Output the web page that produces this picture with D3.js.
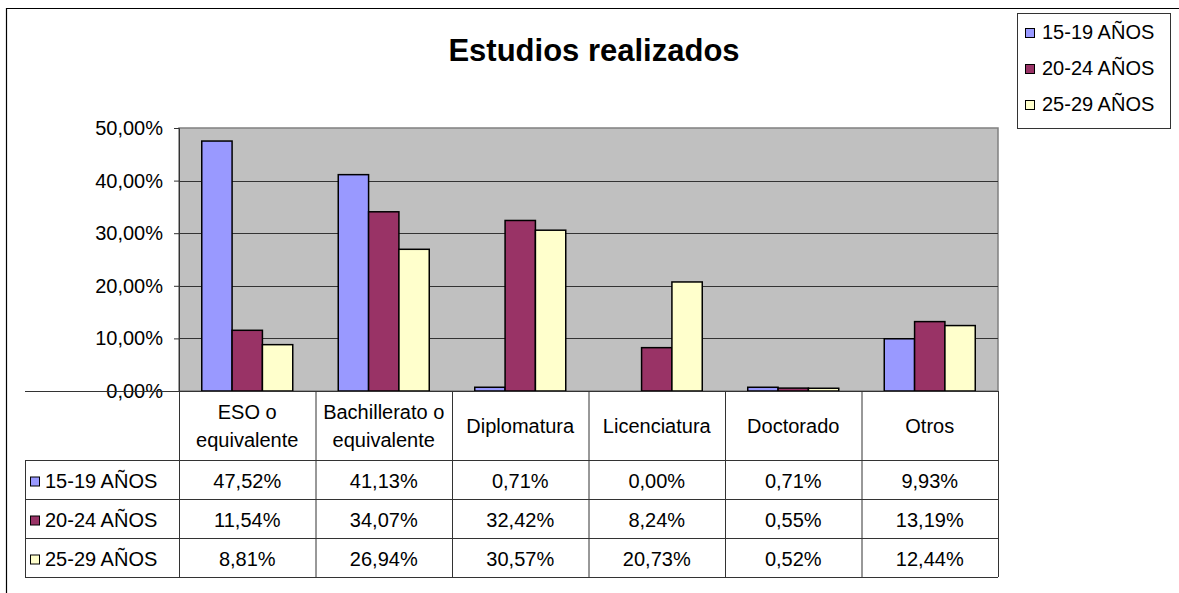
<!DOCTYPE html>
<html>
<head>
<meta charset="utf-8">
<script src="https://cdn.jsdelivr.net/npm/d3@7"></script>
<style>
  body { margin: 0; background: #fff; }
  svg { font-family: "Liberation Sans", Arial, sans-serif; }
</style>
</head>
<body>
<svg id="chart" width="1179" height="593"></svg>
<script>
// data
const categories = ["ESO o\nequivalente", "Bachillerato o\nequivalente", "Diplomatura", "Licenciatura", "Doctorado", "Otros"];
const seriesNames = ["15-19 AÑOS", "20-24 AÑOS", "25-29 AÑOS"];
const serie1519 = [47.52, 41.13, 0.71, 0.00, 0.71, 9.93];
const serie2024 = [11.54, 34.07, 32.42, 8.24, 0.55, 13.19];
const serie2529 = [8.81, 26.94, 30.57, 20.73, 0.52, 12.44];
const yTicks = [0, 10, 20, 30, 40, 50];
const colors = ["#9999FF", "#993366", "#FFFFCC"];

const allSeries = [serie1519, serie2024, serie2529];
const fmt = v => v.toFixed(2).replace(".", ",") + "%";
const FS = 20;

const svg = d3.select("#chart");

// outer chart border
svg.append("path")
    .attr("d", "M6.5,593 V8.5 H1179")
    .attr("fill", "none")
    .attr("stroke", "#000")
    .attr("stroke-width", 1.2);

// title
svg.append("text")
    .attr("x", 594)
    .attr("y", 61)
    .attr("text-anchor", "middle")
    .attr("font-size", 31)
    .attr("font-weight", "bold")
    .text("Estudios realizados");

// plot area
const plot = { left: 179, right: 998, top: 128, bottom: 391 };

const x = d3.scaleBand()
    .domain(d3.range(categories.length))
    .range([plot.left, plot.right])
    .paddingInner(0)
    .paddingOuter(0);

const groupW = x.bandwidth();
const barW = groupW / 4.5;   // gap width 150%

const y = d3.scaleLinear()
    .domain([0, 50])
    .range([plot.bottom, plot.top]);

svg.append("rect")
    .attr("x", plot.left)
    .attr("y", plot.top)
    .attr("width", plot.right - plot.left)
    .attr("height", plot.bottom - plot.top)
    .attr("fill", "#C0C0C0")
    .attr("stroke", "#808080")
    .attr("stroke-width", 1.5);

// gridlines
svg.append("g")
    .selectAll("line")
    .data(yTicks.filter(d => d > 0 && d < 50))
    .enter()
    .append("line")
    .attr("x1", plot.left)
    .attr("x2", plot.right)
    .attr("y1", d => Math.round(y(d)) + 0.5)
    .attr("y2", d => Math.round(y(d)) + 0.5)
    .attr("stroke", "#333")
    .attr("stroke-width", 1);

// y axis
const yAxis = d3.axisLeft(y)
    .tickValues(yTicks)
    .tickSize(5)
    .tickPadding(11)
    .tickFormat(d => d.toFixed(2).replace(".", ",") + "%");

const yg = svg.append("g")
    .attr("transform", `translate(${plot.left},0)`)
    .call(yAxis);
yg.select(".domain").attr("stroke", "#333");
yg.selectAll(".tick line").attr("stroke", "#333");
yg.selectAll(".tick text")
    .attr("font-size", FS)
    .attr("font-family", "Liberation Sans, Arial, sans-serif")
    .attr("fill", "#000");

// bars
allSeries.forEach((serie, si) => {
    svg.append("g")
        .selectAll("rect")
        .data(serie)
        .enter()
        .append("rect")
        .attr("x", (d, i) => x(i) + barW * 0.75 + si * barW)
        .attr("y", d => y(d))
        .attr("width", barW)
        .attr("height", d => y(0) - y(d))
        .attr("fill", colors[si])
        .attr("stroke", d => d > 0 ? "#000" : "none")
        .attr("stroke-width", 1.5);
});

// x axis line
svg.append("line")
    .attr("x1", 25).attr("x2", plot.right)
    .attr("y1", plot.bottom + 0.5).attr("y2", plot.bottom + 0.5)
    .attr("stroke", "#333");

// data table
const headerBottom = 460;
const rowH = 39;
const tableLeft = 25;
const table = svg.append("g").attr("stroke", "#333").attr("stroke-width", 1);

// vertical lines of table
d3.range(categories.length + 1).forEach(i => {
    const xx = i < categories.length ? x(i) : plot.right;
    table.append("line")
        .attr("x1", xx + 0.5).attr("x2", xx + 0.5)
        .attr("y1", plot.bottom).attr("y2", headerBottom + rowH * 3);
});
table.append("line")
    .attr("x1", tableLeft + 0.5).attr("x2", tableLeft + 0.5)
    .attr("y1", headerBottom).attr("y2", headerBottom + rowH * 3);
// horizontal lines
d3.range(4).forEach(r => {
    table.append("line")
        .attr("x1", tableLeft).attr("x2", plot.right)
        .attr("y1", headerBottom + r * rowH + 0.5)
        .attr("y2", headerBottom + r * rowH + 0.5);
});

// category labels
categories.forEach((c, i) => {
    const lines = c.split("\n");
    const cx = x(i) + groupW / 2;
    const cy = (plot.bottom + headerBottom) / 2;
    lines.forEach((ln, li) => {
        svg.append("text")
            .attr("x", cx)
            .attr("y", cy + (li - (lines.length - 1) / 2) * 28 + 7)
            .attr("text-anchor", "middle")
            .attr("font-size", FS)
            .text(ln);
    });
});

// series rows
seriesNames.forEach((name, si) => {
    const rowY = headerBottom + si * rowH;
    const base = rowY + rowH / 2 + 8;
    svg.append("rect")
        .attr("x", 30.5).attr("y", base - 10.5)
        .attr("width", 9).attr("height", 9)
        .attr("fill", colors[si])
        .attr("stroke", "#000").attr("stroke-width", 1);
    svg.append("text")
        .attr("x", 45)
        .attr("y", base)
        .attr("font-size", FS)
        .text(name);
    allSeries[si].forEach((v, i) => {
        svg.append("text")
            .attr("x", x(i) + groupW / 2)
            .attr("y", base)
            .attr("text-anchor", "middle")
            .attr("font-size", FS)
            .text(fmt(v));
    });
});

// legend
const legend = svg.append("g");
legend.append("rect")
    .attr("x", 1017.5).attr("y", 13.5)
    .attr("width", 153).attr("height", 115)
    .attr("fill", "#fff")
    .attr("stroke", "#333");
seriesNames.forEach((name, si) => {
    const base = 39 + si * 36;
    legend.append("rect")
        .attr("x", 1025.5).attr("y", base - 10.5)
        .attr("width", 9).attr("height", 9)
        .attr("fill", colors[si])
        .attr("stroke", "#000");
    legend.append("text")
        .attr("x", 1042)
        .attr("y", base)
        .attr("font-size", FS)
        .text(name);
});
</script>
</body>
</html>
